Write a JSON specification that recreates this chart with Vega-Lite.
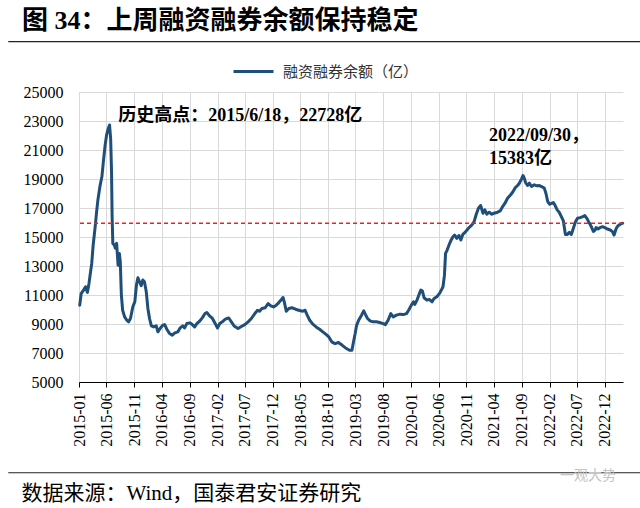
{
  "$schema": "https://vega.github.io/schema/vega-lite/v6.json",
  "width": 544,
  "height": 290,
  "autosize": {"type": "none"},
  "padding": {"left": 79, "top": 92, "right": 17, "bottom": 126},
  "background": "white",
  "config": {"view": {"stroke": null}, "font": "Liberation Serif"},
  "title": {
    "text": "图 34：上周融资融券余额保持稳定",
    "anchor": "start",
    "frame": "group",
    "dx": -57,
    "offset": 7,
    "fontSize": 26,
    "fontWeight": "bold",
    "font": "Liberation Serif, Noto Sans CJK SC",
    "color": "#000000"
  },
  "datasets": {
    "series": [
      {"date": "2015-01-05", "value": 10300},
      {"date": "2015-01-13", "value": 11100},
      {"date": "2015-01-26", "value": 11340},
      {"date": "2015-02-06", "value": 11570},
      {"date": "2015-02-16", "value": 11180},
      {"date": "2015-02-25", "value": 11800},
      {"date": "2015-03-03", "value": 12370},
      {"date": "2015-03-12", "value": 13180},
      {"date": "2015-03-20", "value": 14450},
      {"date": "2015-03-30", "value": 15600},
      {"date": "2015-04-08", "value": 16750},
      {"date": "2015-04-15", "value": 17560},
      {"date": "2015-04-26", "value": 18480},
      {"date": "2015-05-07", "value": 19170},
      {"date": "2015-05-16", "value": 20320},
      {"date": "2015-05-25", "value": 21360},
      {"date": "2015-06-02", "value": 22050},
      {"date": "2015-06-10", "value": 22450},
      {"date": "2015-06-18", "value": 22728},
      {"date": "2015-06-24", "value": 21800},
      {"date": "2015-06-29", "value": 19500},
      {"date": "2015-07-02", "value": 16520},
      {"date": "2015-07-06", "value": 14560},
      {"date": "2015-07-14", "value": 14450},
      {"date": "2015-07-20", "value": 14220},
      {"date": "2015-07-27", "value": 14560},
      {"date": "2015-08-04", "value": 13060},
      {"date": "2015-08-11", "value": 13870},
      {"date": "2015-08-16", "value": 13300},
      {"date": "2015-08-22", "value": 11000},
      {"date": "2015-08-29", "value": 9950},
      {"date": "2015-09-09", "value": 9490},
      {"date": "2015-09-21", "value": 9260},
      {"date": "2015-10-01", "value": 9150},
      {"date": "2015-10-11", "value": 9380},
      {"date": "2015-10-24", "value": 10180},
      {"date": "2015-11-04", "value": 10530},
      {"date": "2015-11-13", "value": 11680},
      {"date": "2015-11-21", "value": 12190},
      {"date": "2015-11-30", "value": 11910},
      {"date": "2015-12-09", "value": 11640},
      {"date": "2015-12-18", "value": 12030},
      {"date": "2015-12-27", "value": 11910},
      {"date": "2016-01-06", "value": 11220},
      {"date": "2016-01-15", "value": 10070},
      {"date": "2016-01-24", "value": 9380},
      {"date": "2016-02-03", "value": 8870},
      {"date": "2016-02-16", "value": 8800},
      {"date": "2016-03-01", "value": 8870},
      {"date": "2016-03-10", "value": 8460},
      {"date": "2016-03-22", "value": 8690},
      {"date": "2016-04-06", "value": 8920},
      {"date": "2016-04-16", "value": 8960},
      {"date": "2016-04-28", "value": 8640},
      {"date": "2016-05-13", "value": 8340},
      {"date": "2016-05-28", "value": 8230},
      {"date": "2016-06-11", "value": 8390},
      {"date": "2016-06-28", "value": 8460},
      {"date": "2016-07-10", "value": 8730},
      {"date": "2016-07-25", "value": 8870},
      {"date": "2016-08-04", "value": 8730},
      {"date": "2016-08-16", "value": 9030},
      {"date": "2016-09-01", "value": 9080},
      {"date": "2016-09-15", "value": 8960},
      {"date": "2016-09-28", "value": 8800},
      {"date": "2016-10-10", "value": 9030},
      {"date": "2016-10-25", "value": 9190},
      {"date": "2016-11-09", "value": 9420},
      {"date": "2016-11-24", "value": 9720},
      {"date": "2016-12-04", "value": 9790},
      {"date": "2016-12-19", "value": 9560},
      {"date": "2017-01-03", "value": 9400},
      {"date": "2017-01-19", "value": 9030},
      {"date": "2017-02-01", "value": 8730},
      {"date": "2017-02-13", "value": 9030},
      {"date": "2017-02-27", "value": 9150},
      {"date": "2017-03-16", "value": 9330},
      {"date": "2017-04-03", "value": 9420},
      {"date": "2017-04-18", "value": 9150},
      {"date": "2017-05-03", "value": 8870},
      {"date": "2017-05-25", "value": 8690},
      {"date": "2017-06-12", "value": 8830},
      {"date": "2017-07-01", "value": 8960},
      {"date": "2017-07-19", "value": 9150},
      {"date": "2017-08-06", "value": 9380},
      {"date": "2017-08-25", "value": 9720},
      {"date": "2017-09-09", "value": 9950},
      {"date": "2017-09-20", "value": 9880},
      {"date": "2017-10-03", "value": 10070},
      {"date": "2017-10-21", "value": 10120},
      {"date": "2017-11-06", "value": 10410},
      {"date": "2017-11-21", "value": 10250},
      {"date": "2017-12-06", "value": 10180},
      {"date": "2017-12-21", "value": 10300},
      {"date": "2018-01-03", "value": 10460},
      {"date": "2018-01-16", "value": 10650},
      {"date": "2018-01-27", "value": 10830},
      {"date": "2018-02-03", "value": 10530},
      {"date": "2018-02-14", "value": 9880},
      {"date": "2018-02-28", "value": 10070},
      {"date": "2018-03-17", "value": 10120},
      {"date": "2018-04-06", "value": 10020},
      {"date": "2018-04-28", "value": 9930},
      {"date": "2018-05-16", "value": 9880},
      {"date": "2018-05-28", "value": 9950},
      {"date": "2018-06-09", "value": 9610},
      {"date": "2018-06-23", "value": 9260},
      {"date": "2018-07-10", "value": 8990},
      {"date": "2018-07-28", "value": 8800},
      {"date": "2018-08-16", "value": 8640},
      {"date": "2018-09-03", "value": 8460},
      {"date": "2018-09-22", "value": 8270},
      {"date": "2018-10-06", "value": 8110},
      {"date": "2018-10-22", "value": 7770},
      {"date": "2018-11-09", "value": 7650},
      {"date": "2018-11-28", "value": 7720},
      {"date": "2018-12-19", "value": 7530},
      {"date": "2019-01-06", "value": 7350},
      {"date": "2019-01-28", "value": 7190},
      {"date": "2019-02-10", "value": 7190},
      {"date": "2019-02-19", "value": 7770},
      {"date": "2019-02-28", "value": 8340},
      {"date": "2019-03-07", "value": 8870},
      {"date": "2019-03-19", "value": 9260},
      {"date": "2019-04-04", "value": 9610},
      {"date": "2019-04-16", "value": 9910},
      {"date": "2019-04-26", "value": 9650},
      {"date": "2019-05-07", "value": 9380},
      {"date": "2019-05-21", "value": 9220},
      {"date": "2019-06-07", "value": 9150},
      {"date": "2019-06-25", "value": 9150},
      {"date": "2019-07-13", "value": 9100},
      {"date": "2019-08-01", "value": 9030},
      {"date": "2019-08-13", "value": 8960},
      {"date": "2019-08-28", "value": 9260},
      {"date": "2019-09-12", "value": 9720},
      {"date": "2019-09-25", "value": 9490},
      {"date": "2019-10-13", "value": 9610},
      {"date": "2019-11-01", "value": 9680},
      {"date": "2019-11-19", "value": 9650},
      {"date": "2019-12-07", "value": 9720},
      {"date": "2019-12-19", "value": 9950},
      {"date": "2020-01-03", "value": 10300},
      {"date": "2020-01-15", "value": 10530},
      {"date": "2020-01-22", "value": 10350},
      {"date": "2020-02-03", "value": 10650},
      {"date": "2020-02-13", "value": 10990},
      {"date": "2020-02-24", "value": 11340},
      {"date": "2020-03-04", "value": 11270},
      {"date": "2020-03-13", "value": 10810},
      {"date": "2020-03-28", "value": 10650},
      {"date": "2020-04-12", "value": 10690},
      {"date": "2020-04-26", "value": 10530},
      {"date": "2020-05-07", "value": 10760},
      {"date": "2020-05-22", "value": 10880},
      {"date": "2020-06-06", "value": 11110},
      {"date": "2020-06-16", "value": 11340},
      {"date": "2020-06-25", "value": 11570},
      {"date": "2020-07-03", "value": 12370},
      {"date": "2020-07-09", "value": 13870},
      {"date": "2020-07-18", "value": 14100},
      {"date": "2020-07-28", "value": 14450},
      {"date": "2020-08-06", "value": 14720},
      {"date": "2020-08-19", "value": 15020},
      {"date": "2020-08-28", "value": 15140},
      {"date": "2020-09-09", "value": 14910},
      {"date": "2020-09-21", "value": 15100},
      {"date": "2020-10-01", "value": 14790},
      {"date": "2020-10-12", "value": 15180},
      {"date": "2020-10-24", "value": 15320},
      {"date": "2020-11-04", "value": 15480},
      {"date": "2020-11-15", "value": 15650},
      {"date": "2020-12-01", "value": 15830},
      {"date": "2020-12-13", "value": 16060},
      {"date": "2020-12-25", "value": 16570},
      {"date": "2021-01-06", "value": 16980},
      {"date": "2021-01-18", "value": 17170},
      {"date": "2021-01-31", "value": 16640},
      {"date": "2021-02-10", "value": 16870},
      {"date": "2021-02-21", "value": 16570},
      {"date": "2021-03-06", "value": 16710},
      {"date": "2021-03-19", "value": 16570},
      {"date": "2021-04-02", "value": 16640},
      {"date": "2021-04-21", "value": 16710},
      {"date": "2021-05-06", "value": 16800},
      {"date": "2021-05-19", "value": 17100},
      {"date": "2021-06-01", "value": 17330},
      {"date": "2021-06-15", "value": 17670},
      {"date": "2021-07-01", "value": 17900},
      {"date": "2021-07-13", "value": 18090},
      {"date": "2021-07-28", "value": 18410},
      {"date": "2021-08-09", "value": 18550},
      {"date": "2021-08-19", "value": 18710},
      {"date": "2021-08-31", "value": 19010},
      {"date": "2021-09-08", "value": 19240},
      {"date": "2021-09-15", "value": 19060},
      {"date": "2021-09-22", "value": 18760},
      {"date": "2021-10-03", "value": 18550},
      {"date": "2021-10-13", "value": 18710},
      {"date": "2021-10-25", "value": 18480},
      {"date": "2021-11-09", "value": 18600},
      {"date": "2021-11-24", "value": 18530},
      {"date": "2021-12-07", "value": 18550},
      {"date": "2021-12-19", "value": 18480},
      {"date": "2022-01-03", "value": 18370},
      {"date": "2022-01-12", "value": 18020},
      {"date": "2022-01-22", "value": 17440},
      {"date": "2022-02-02", "value": 17260},
      {"date": "2022-02-13", "value": 17330},
      {"date": "2022-02-22", "value": 17370},
      {"date": "2022-03-04", "value": 17170},
      {"date": "2022-03-15", "value": 16870},
      {"date": "2022-03-26", "value": 16710},
      {"date": "2022-04-07", "value": 16410},
      {"date": "2022-04-18", "value": 16110},
      {"date": "2022-04-24", "value": 15600},
      {"date": "2022-04-29", "value": 15180},
      {"date": "2022-05-10", "value": 15180},
      {"date": "2022-05-21", "value": 15320},
      {"date": "2022-06-01", "value": 15180},
      {"date": "2022-06-12", "value": 15600},
      {"date": "2022-06-24", "value": 16060},
      {"date": "2022-07-05", "value": 16290},
      {"date": "2022-07-19", "value": 16340},
      {"date": "2022-08-03", "value": 16410},
      {"date": "2022-08-14", "value": 16480},
      {"date": "2022-08-25", "value": 16290},
      {"date": "2022-09-06", "value": 16010},
      {"date": "2022-09-16", "value": 15780},
      {"date": "2022-09-30", "value": 15383},
      {"date": "2022-10-10", "value": 15480},
      {"date": "2022-10-15", "value": 15650},
      {"date": "2022-10-26", "value": 15550},
      {"date": "2022-11-06", "value": 15650},
      {"date": "2022-11-19", "value": 15710},
      {"date": "2022-12-02", "value": 15650},
      {"date": "2022-12-16", "value": 15550},
      {"date": "2023-01-01", "value": 15480},
      {"date": "2023-01-13", "value": 15370},
      {"date": "2023-01-22", "value": 15140},
      {"date": "2023-02-03", "value": 15600},
      {"date": "2023-02-13", "value": 15780},
      {"date": "2023-02-24", "value": 15880},
      {"date": "2023-03-10", "value": 15950}
    ],
    "notes": [
      {"date": "2015-08-05", "value": 23365, "label": "历史高点：2015/6/18，22728亿"},
      {"date": "2021-03-05", "value": 21965, "label": "2022/09/30，"},
      {"date": "2021-03-05", "value": 20400, "label": "15383亿"}
    ]
  },
  "layer": [
    {
      "data": {"name": "series"},
      "mark": {"type": "line", "strokeWidth": 3, "strokeJoin": "round", "strokeCap": "round"},
      "encoding": {
        "x": {
          "field": "date",
          "type": "temporal",
          "scale": {
            "type": "utc",
            "domain": ["2015-01-01", "2023-03-12"]
          },
          "axis": {
            "title": "数据来源：Wind，国泰君安证券研究",
            "titleFont": "Liberation Serif, Noto Sans CJK SC",
            "titleFontSize": 21,
            "titleFontWeight": "normal",
            "titleColor": "#000000",
            "titleAlign": "left",
            "titleBaseline": "alphabetic",
            "titleX": -58,
            "titleY": 117,
            "tickCount": 40,
            "values": [
              "2015-01-01", "2015-06-01", "2015-11-01", "2016-04-01", "2016-09-01",
              "2017-02-01", "2017-07-01", "2017-12-01", "2018-05-01", "2018-10-01",
              "2019-03-01", "2019-08-01", "2020-01-01", "2020-06-01", "2020-11-01",
              "2021-04-01", "2021-09-01", "2022-02-01", "2022-07-01", "2022-12-01"
            ],
            "format": "%Y-%m",
            "labelAngle": -90,
            "labelFont": "Liberation Serif",
            "labelFontSize": 16,
            "labelColor": "#000000",
            "labelPadding": 6,
            "labelFlush": false,
            "labelOverlap": false,
            "tickSize": 5,
            "tickColor": "#000000",
            "domainColor": "#000000",
            "grid": true,
            "gridColor": "#d9d9d9",
            "gridWidth": 1
          }
        },
        "y": {
          "field": "value",
          "type": "quantitative",
          "scale": {"domain": [5000, 25000], "nice": false, "zero": false},
          "axis": {
            "title": null,
            "tickCount": 40,
            "values": [5000, 7000, 9000, 11000, 13000, 15000, 17000, 19000, 21000, 23000, 25000],
            "format": "d",
            "labelFont": "Liberation Serif",
            "labelFontSize": 16,
            "labelColor": "#000000",
            "labelPadding": 16,
            "labelOverlap": false,
            "domain": false,
            "ticks": false,
            "grid": true,
            "gridColor": "#d9d9d9",
            "gridWidth": 1
          }
        },
        "color": {
          "datum": "融资融券余额（亿）",
          "type": "nominal",
          "scale": {"domain": ["融资融券余额（亿）"], "range": ["#1f4e79"]},
          "legend": {
            "title": null,
            "orient": "none",
            "legendX": 153,
            "legendY": -42,
            "symbolType": "stroke",
            "symbolSize": 1600,
            "symbolStrokeWidth": 3,
            "labelFont": "Noto Sans CJK SC",
            "labelFontSize": 15,
            "labelColor": "#333333",
            "labelOffset": 8
          }
        }
      }
    },
    {
      "data": {"values": [{}]},
      "mark": {"type": "rule", "color": "#ff1a1a", "strokeWidth": 1.5, "strokeDash": [4, 3]},
      "encoding": {"y": {"datum": 15950}}
    },
    {
      "data": {"values": [{}]},
      "mark": {"type": "rule", "color": "#222222", "strokeWidth": 1.2, "clip": false},
      "encoding": {
        "x": {"datum": 1386460800000, "type": "temporal"},
        "x2": {"datum": 1688169600000},
        "y": {"datum": 28469, "type": "quantitative"}
      }
    },
    {
      "data": {"values": [{}]},
      "mark": {"type": "rule", "color": "#222222", "strokeWidth": 1.2, "clip": false},
      "encoding": {
        "x": {"datum": 1386460800000, "type": "temporal"},
        "x2": {"datum": 1688169600000},
        "y": {"datum": -1257, "type": "quantitative"}
      }
    },
    {
      "data": {"values": [{}]},
      "mark": {"type": "text", "text": "一观大势", "align": "left", "baseline": "middle", "font": "Noto Sans CJK SC", "fontSize": 14, "color": "#c4c4c4", "clip": false},
      "encoding": {
        "x": {"datum": 1648684800000, "type": "temporal"},
        "y": {"datum": -1485, "type": "quantitative"}
      }
    },
    {
      "data": {"name": "notes"},
      "mark": {
        "type": "text",
        "align": "left",
        "baseline": "middle",
        "font": "Liberation Serif, Noto Sans CJK SC",
        "fontSize": 18,
        "fontWeight": "bold",
        "color": "#000000",
        "clip": false
      },
      "encoding": {
        "x": {"field": "date", "type": "temporal"},
        "y": {"field": "value", "type": "quantitative"},
        "text": {"field": "label"}
      }
    }
  ]
}
